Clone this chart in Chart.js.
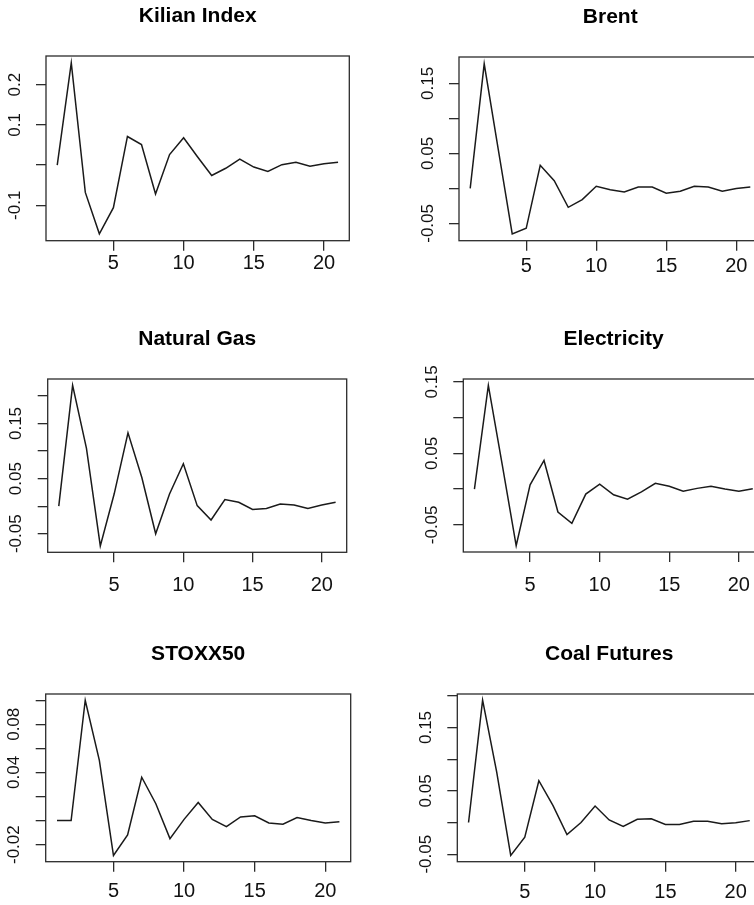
<!DOCTYPE html>
<html><head><meta charset="utf-8">
<script src="https://cdn.jsdelivr.net/npm/chart.js@4/dist/chart.umd.min.js"></script>
<style>
html,body{margin:0;padding:0;background:#fff;}
body{width:754px;height:905px;overflow:hidden;position:relative;}
canvas{position:absolute;}
</style></head>
<body>
<canvas id="c1"></canvas><canvas id="c2"></canvas><canvas id="c3"></canvas>
<canvas id="c4"></canvas><canvas id="c5"></canvas><canvas id="c6"></canvas>
<script>
// ---- data ----
const horizon = [1,2,3,4,5,6,7,8,9,10,11,12,13,14,15,16,17,18,19,20,21];
const xTickValues = [5,10,15,20];

const kilianIndex = [0, 0.254, -0.068, -0.171, -0.106, 0.071, 0.051, -0.072, 0.026, 0.068, 0.020, -0.026, -0.008, 0.015, -0.005, -0.016, 0.001, 0.007, -0.003, 0.003, 0.007];
const brent       = [0, 0.178, 0.056, -0.065, -0.057, 0.033, 0.011, -0.027, -0.016, 0.003, -0.002, -0.005, 0.002, 0.002, -0.007, -0.004, 0.003, 0.002, -0.004, 0, 0.002];
const naturalGas  = [0, 0.219, 0.105, -0.072, 0.022, 0.133, 0.052, -0.050, 0.022, 0.077, 0.001, -0.025, 0.012, 0.007, -0.006, -0.004, 0.004, 0.002, -0.004, 0.002, 0.007];
const electricity = [0, 0.145, 0.034, -0.079, 0.006, 0.040, -0.032, -0.048, -0.007, 0.007, -0.008, -0.014, -0.004, 0.008, 0.004, -0.003, 0.001, 0.004, 0, -0.003, 0.0005];
const stoxx50     = [0, 0, 0.100, 0.050, -0.029, -0.012, 0.036, 0.014, -0.015, 0.001, 0.015, 0.001, -0.005, 0.003, 0.004, -0.002, -0.003, 0.0025, 0, -0.002, -0.001];
const coalFutures = [0, 0.193, 0.080, -0.052, -0.023, 0.066, 0.027, -0.019, 0.0, 0.026, 0.004, -0.006, 0.005, 0.006, -0.003, -0.003, 0.002, 0.002, -0.002, -0.0005, 0.003];

const titles = ["Kilian Index", "Brent", "Natural Gas", "Electricity", "STOXX50", "Coal Futures"];

const yTicksKilian = [-0.1, 0, 0.1, 0.2];
const yLabelsKilian = ["-0.1", "", "0.1", "0.2"];
const yTicksBrent = [-0.05, 0, 0.05, 0.10, 0.15];
const yLabelsBrent = ["-0.05", "", "0.05", "", "0.15"];
const yTicksGas = [-0.05, 0, 0.05, 0.10, 0.15, 0.20];
const yLabelsGas = ["-0.05", "", "0.05", "", "0.15", ""];
const yTicksElec = [-0.05, 0, 0.05, 0.10, 0.15];
const yLabelsElec = ["-0.05", "", "0.05", "", "0.15"];
const yTicksStoxx = [-0.02, 0, 0.02, 0.04, 0.06, 0.08, 0.10];
const yLabelsStoxx = ["-0.02", "", "", "0.04", "", "0.08", ""];
const yTicksCoal = [-0.05, 0, 0.05, 0.10, 0.15, 0.20];
const yLabelsCoal = ["-0.05", "", "0.05", "", "0.15", ""];

// ---- layout (plot boxes in page pixels) ----
const FONT = "'Liberation Sans', Arial, sans-serif";
const panels = [
  {id:'c1', title:titles[0], values:kilianIndex, yt:yTicksKilian, yl:yLabelsKilian, box:{l:46,   t:56,    r:349.3, b:240.7}, cx:0,   cw:377, xpad:1},
  {id:'c2', title:titles[1], values:brent,       yt:yTicksBrent,  yl:yLabelsBrent,  box:{l:459,  t:57,    r:761.5, b:240.7}, cx:377, cw:400, xpad:4},
  {id:'c3', title:titles[2], values:naturalGas,  yt:yTicksGas,    yl:yLabelsGas,    box:{l:47.7, t:379,   r:346.7, b:552.3}, cx:0,   cw:377, xpad:11},
  {id:'c4', title:titles[3], values:electricity, yt:yTicksElec,   yl:yLabelsElec,   box:{l:463.3,t:379.3, r:763.9, b:552.3}, cx:377, cw:400, xpad:11},
  {id:'c5', title:titles[4], values:stoxx50,     yt:yTicksStoxx,  yl:yLabelsStoxx,  box:{l:45.7, t:694,   r:350.7, b:861.7}, cx:0,   cw:377, xpad:8},
  {id:'c6', title:titles[5], values:coalFutures, yt:yTicksCoal,   yl:yLabelsCoal,   box:{l:457.3,t:694,   r:761,   b:861.7}, cx:377, cw:400, xpad:9}
];

const TITLE_SIZE = 21, TITLE_LH = 1.2;
const TITLE_CENTER_ABOVE = 40;
const TOP_ROOM = 56;
const BOTTOM_ROOM = 44;

const boxPlugin = {
  id: 'rbox',
  afterDraw(chart) {
    const a = chart.chartArea, ctx = chart.ctx;
    ctx.save();
    ctx.strokeStyle = '#2b2b2b';
    ctx.lineWidth = 1.3;
    ctx.strokeRect(a.left, a.top, a.right - a.left, a.bottom - a.top);
    // rotated y labels
    const p = chart.options.plugins.rlabels;
    const ys = chart.scales.y;
    ctx.fillStyle = '#111';
    ctx.font = p.size + 'px ' + FONT;
    ctx.textAlign = 'center';
    ctx.textBaseline = 'middle';
    p.ticks.forEach((v, i) => {
      const lab = p.labels[i];
      if (!lab) return;
      const py = ys.getPixelForValue(v);
      ctx.save();
      ctx.translate(a.left - 31, py);
      ctx.rotate(-Math.PI / 2);
      ctx.fillText(lab, 0, 0);
      ctx.restore();
    });
    ctx.restore();
  }
};

panels.forEach(p => {
  const cy = p.box.t - TOP_ROOM;
  const ch = Math.round(p.box.b - cy + BOTTOM_ROOM);
  const cv = document.getElementById(p.id);
  cv.width = p.cw; cv.height = ch;
  cv.style.left = p.cx + 'px'; cv.style.top = cy + 'px';
  cv.style.width = p.cw + 'px'; cv.style.height = ch + 'px';

  const lh = TITLE_SIZE * TITLE_LH;
  const titleTopPad = (TOP_ROOM - TITLE_CENTER_ABOVE) - lh / 2;
  const titleBotPad = TOP_ROOM - titleTopPad - lh;
  const xAxisHeight = ch - (p.box.b - cy);

  const vmin = Math.min(...p.values), vmax = Math.max(...p.values);
  const ext = (vmax - vmin) * 0.04;

  const gridOpts = {display:true, drawOnChartArea:false, drawTicks:true, tickLength:10, color:'#2b2b2b', lineWidth:1.3};

  new Chart(cv.getContext('2d'), {
    type: 'line',
    data: { datasets: [{
      data: horizon.map((h, i) => ({x: h, y: p.values[i]})),
      borderColor: '#1a1a1a', borderWidth: 1.5, pointRadius: 0, tension: 0, fill: false
    }]},
    options: {
      responsive: false, animation: false, devicePixelRatio: 1,
      layout: { padding: { left: p.box.l - p.cx, right: p.cx + p.cw - p.box.r, top: 0, bottom: 0 } },
      plugins: {
        legend: {display:false}, tooltip: {enabled:false},
        title: { display:true, text:p.title, color:'#000',
                 font:{family:FONT, size:TITLE_SIZE, weight:'bold', lineHeight:TITLE_LH},
                 padding:{top:titleTopPad, bottom:titleBotPad} },
        rlabels: { ticks: p.yt, labels: p.yl, size: 17 }
      },
      scales: {
        x: { type:'linear', min: 1 - 0.8, max: 21 + 0.8,
             afterBuildTicks: s => { s.ticks = xTickValues.map(v => ({value: v})); },
             afterFit: s => { s.height = xAxisHeight; },
             grid: gridOpts, border: {display:false},
             ticks: { color:'#111', font:{family:FONT, size:20}, padding:p.xpad, maxRotation:0, minRotation:0, autoSkip:false,
                      callback: v => String(v) } },
        y: { type:'linear', min: vmin - ext, max: vmax + ext,
             afterBuildTicks: s => { s.ticks = p.yt.map(v => ({value: v})); },
             afterFit: s => { s.width = 0; },
             grid: gridOpts, border: {display:false},
             ticks: { display:false } }
      }
    },
    plugins: [boxPlugin]
  });
});
</script>
</body></html>
